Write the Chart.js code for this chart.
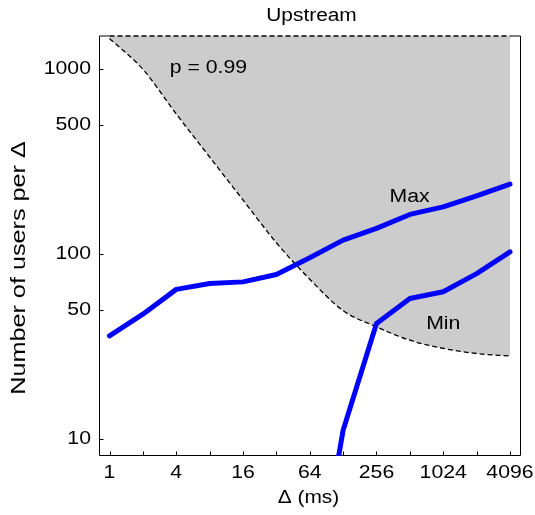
<!DOCTYPE html>
<html>
<head>
<meta charset="utf-8">
<title>Upstream</title>
<script src="https://cdn.jsdelivr.net/npm/chart.js@4/dist/chart.umd.min.js"></script>
<style>
  html, body { margin: 0; padding: 0; background: #fff; }
  canvas { display: block; }
</style>
</head>
<body>
<canvas id="upChart" width="535" height="515"></canvas>
<script>
// delays are powers of two, in ms
const delays = [1, 2, 4, 8, 16, 32, 64, 128, 256, 512, 1024, 2048, 4096];
const maxUsers = [36.0, 47.2, 64.3, 69.2, 70.6, 77.4, 95.5, 118.8, 137.5, 163.7, 179.8, 206.6, 238.8];
const minDelays = [64, 128, 256, 512, 1024, 2048, 4096];
const minUsers = [1, 11.1, 42.0, 57.4, 62.4, 78.3, 102.6];
// p = 0.99 boundary, shaded above
const boundary = [1470, 1000, 573, 335, 196, 115, 73, 49.3, 40.3, 34.1, 30.8, 28.9, 28.0];

const xTickLabels = [1, 4, 16, 64, 256, 1024, 4096];
const yTickLabels = [10, 50, 100, 500, 1000];
const xRange = [0.804, 5043];
const yRange = [8.05, 1515];

const notes = [
    { text: 'p = 0.99', x: 7.8, y: 1010 },
    { text: 'Max', x: 509, y: 204 },
    { text: 'Min', x: 1024, y: 41.7 }
];

const FONT = '"Liberation Sans", Arial, sans-serif';

function pts(xs, ys) {
    return xs.map((x, i) => ({ x: x, y: ys[i] }));
}

// the original lettering is wide, so text is drawn horizontally stretched
function wideText(ctx, text, x, y, size, sx, align, rot) {
    ctx.save();
    ctx.translate(x, y);
    if (rot) ctx.rotate(rot);
    ctx.scale(sx, 1);
    ctx.font = size + 'px ' + FONT;
    ctx.fillStyle = '#000';
    ctx.textAlign = align;
    ctx.textBaseline = 'middle';
    ctx.fillText(text, 0, 0);
    ctx.restore();
}

const framePlugin = {
    id: 'frame',
    beforeDatasetsDraw(chart) {
        const { ctx, chartArea: a, scales } = chart;
        const xs = scales.x, ys = scales.y;
        const l = Math.round(a.left) + 0.5, r = Math.round(a.right) + 0.5;
        const t = Math.round(a.top), b = Math.round(a.bottom) - 0.5;
        ctx.save();
        ctx.strokeStyle = '#000';
        ctx.lineWidth = 1;
        ctx.beginPath();
        // top edge only where the shaded region does not cover it
        ctx.moveTo(xs.getPixelForValue(delays[0]), t);
        ctx.lineTo(l, t);
        ctx.lineTo(l, b);
        ctx.lineTo(r, b);
        ctx.lineTo(r, t);
        ctx.lineTo(xs.getPixelForValue(delays[delays.length - 1]), t);
        ctx.stroke();
        // inward tick marks
        ctx.beginPath();
        delays.forEach(v => {
            const px = Math.round(xs.getPixelForValue(v)) + 0.5;
            ctx.moveTo(px, b);
            ctx.lineTo(px, b - 4);
        });
        yTickLabels.forEach(v => {
            const py = Math.round(ys.getPixelForValue(v)) + 0.5;
            ctx.moveTo(l, py);
            ctx.lineTo(l + 4, py);
        });
        ctx.stroke();
        ctx.restore();
    },
    afterDraw(chart) {
        const { ctx, chartArea: a, scales } = chart;
        const xs = scales.x, ys = scales.y;
        const cx = (a.left + a.right) / 2;
        wideText(ctx, 'Upstream', cx + 2, 16.5, 18, 1.16, 'center');
        xTickLabels.forEach(v => {
            wideText(ctx, String(v), xs.getPixelForValue(v), 473, 18, 1.18, 'center');
        });
        yTickLabels.forEach(v => {
            wideText(ctx, String(v), a.left - 8, ys.getPixelForValue(v), 18, 1.18, 'right');
        });
        wideText(ctx, 'Δ (ms)', cx - 1, 498.5, 18, 1.16, 'center');
        wideText(ctx, 'Number of users per Δ', 19.5, 268, 20, 1.26, 'center', -Math.PI / 2);
        notes.forEach(n => {
            wideText(ctx, n.text, xs.getPixelForValue(n.x), ys.getPixelForValue(n.y), 18, 1.18, 'center');
        });
    }
};

const upChart = new Chart(document.getElementById('upChart'), {
    type: 'line',
    data: {
        datasets: [
            {
                label: 'Max',
                data: pts(delays, maxUsers),
                borderColor: '#0000ff',
                borderWidth: 5,
                borderCapStyle: 'round',
                borderJoinStyle: 'round',
                pointRadius: 0,
                fill: false,
                order: 1
            },
            {
                label: 'Min',
                data: pts(minDelays, minUsers),
                borderColor: '#0000ff',
                borderWidth: 5,
                borderCapStyle: 'round',
                borderJoinStyle: 'round',
                pointRadius: 0,
                fill: false,
                clip: 0,
                order: 2
            },
            {
                label: 'top',
                data: [{ x: delays[0], y: yRange[1] }, { x: delays[delays.length - 1], y: yRange[1] }],
                borderColor: '#000',
                borderWidth: 1.3,
                borderDash: [5, 3],
                pointRadius: 0,
                fill: false,
                clip: false,
                order: 3
            },
            {
                label: 'p = 0.99',
                data: pts(delays, boundary),
                borderColor: '#000',
                borderWidth: 1.3,
                borderDash: [5, 3],
                backgroundColor: 'rgb(204,204,204)',
                cubicInterpolationMode: 'monotone',
                pointRadius: 0,
                fill: 'end',
                order: 4
            }
        ]
    },
    options: {
        responsive: false,
        animation: false,
        layout: { padding: { left: 99, right: 15, top: 36, bottom: 59 } },
        scales: {
            x: {
                type: 'logarithmic',
                min: xRange[0],
                max: xRange[1],
                bounds: 'data',
                display: false
            },
            y: {
                type: 'logarithmic',
                min: yRange[0],
                max: yRange[1],
                bounds: 'data',
                display: false
            }
        },
        plugins: {
            legend: { display: false },
            tooltip: { enabled: false }
        }
    },
    plugins: [framePlugin]
});
</script>
</body>
</html>
